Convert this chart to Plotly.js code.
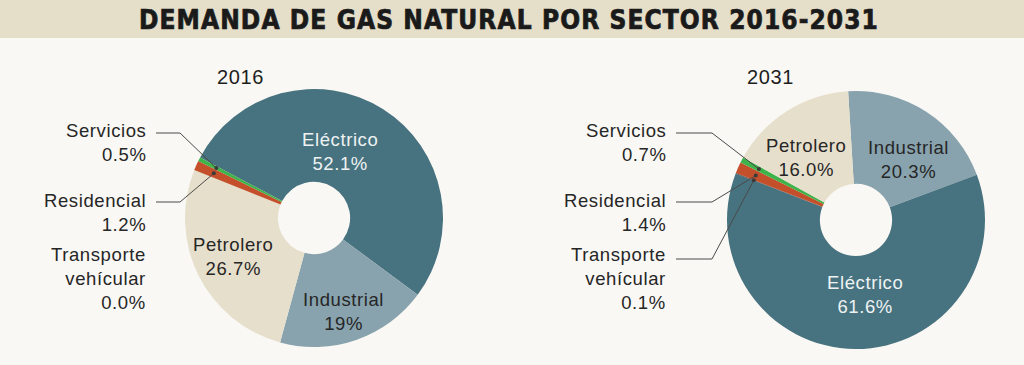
<!DOCTYPE html>
<html><head><meta charset="utf-8">
<script src="https://cdn.plot.ly/plotly-3.0.1.min.js"></script>
<style>
html,body{margin:0;padding:0;background:#f9f8f4;}
#chart{width:1024px;height:365px;}
.annotation-text{letter-spacing:0.6px;}
.gtitle{letter-spacing:1.1px; stroke:#1a1a1a; stroke-width:0.7px;}
</style></head><body><div id="chart"></div>
<script>
// ---- data ----
const chartTitle = "DEMANDA DE GAS NATURAL POR SECTOR 2016-2031";
const years = ["2016", "2031"];
const sectors2016 = ["Eléctrico", "Industrial", "Petrolero", "Transporte vehícular", "Residencial", "Servicios"];
const values2016 = [52.1, 19, 26.7, 0.0, 1.2, 0.5];
const pctText2016 = ["52.1%", "19%", "26.7%", "0.0%", "1.2%", "0.5%"];
const sectors2031 = ["Industrial", "Eléctrico", "Transporte vehícular", "Residencial", "Servicios", "Petrolero"];
const values2031 = [20.3, 61.6, 0.1, 1.4, 0.7, 16.0];
const pctText2031 = ["20.3%", "61.6%", "0.1%", "1.4%", "0.7%", "16.0%"];

// ---- style / layout ----
const W = 1024, H = 365;
const colors = {
  "Eléctrico": "#47727f",
  "Industrial": "#88a3ad",
  "Petrolero": "#e6dfcb",
  "Transporte vehícular": "#33414a",
  "Residencial": "#c4502b",
  "Servicios": "#3db34a"
};
const txtDark = "#262626";
const fontFam = "Liberation Sans, Arial, sans-serif";
const pies = [
  {year: years[0], yearX: 240, labels: sectors2016, values: values2016, text: pctText2016, cx: 314, cy: 218, r: 129, rot: -62,
   inside: {"Eléctrico": [340, 152], "Industrial": [343, 311], "Petrolero": [233, 256]},
   outEdge: 148, knee: 180},
  {year: years[1], yearX: 770, labels: sectors2031, values: values2031, text: pctText2031, cx: 856, cy: 220, r: 129, rot: -3.5,
   inside: {"Petrolero": [806, 157], "Industrial": [908, 159], "Eléctrico": [865, 294]},
   outEdge: 668, knee: 712}
];
const outY = {"Servicios": 143, "Residencial": 213, "Transporte vehícular": 278};
const firstLineY = {"Servicios": 133, "Residencial": 202, "Transporte vehícular": 259};
const px = x => x / W, py = y => (H - y) / H;

const traces = [], annotations = [], shapes = [];
shapes.push({type: "rect", xref: "paper", yref: "paper", x0: 0, x1: 1, y0: py(38), y1: 1,
  fillcolor: "#e5dec9", line: {width: 0}, layer: "below"});

pies.forEach(p => {
  traces.push({
    type: "pie", labels: p.labels, values: p.values, sort: false, direction: "clockwise",
    rotation: p.rot, hole: 0.28, textinfo: "none", hoverinfo: "label+percent",
    marker: {colors: p.labels.map(l => colors[l]), line: {width: 0}},
    domain: {x: [px(p.cx - p.r), px(p.cx + p.r)], y: [py(p.cy + p.r), py(p.cy - p.r)]},
    showlegend: false
  });
  annotations.push({text: p.year, xref: "paper", yref: "paper", x: px(p.yearX), y: py(77),
    xanchor: "center", yanchor: "middle",
    showarrow: false, font: {family: fontFam, size: 20, color: "#1e1e1e"}});
  const total = p.values.reduce((a, b) => a + b, 0);
  let cum = 0;
  p.labels.forEach((lab, i) => {
    const v = p.values[i];
    const mid = (p.rot + (cum + v / 2) / total * 360) * Math.PI / 180;
    cum += v;
    if (p.inside[lab]) {
      const [x, y] = p.inside[lab];
      annotations.push({text: lab + "<br>" + p.text[i], xref: "paper", yref: "paper", x: px(x), y: py(y),
        xanchor: "center", yanchor: "middle", showarrow: false,
        font: {family: fontFam, size: 18.5, color: lab === "Eléctrico" ? "#eef2f3" : txtDark}});
    } else {
      annotations.push({text: lab.replace(" ", "<br>") + "<br>" + p.text[i], xref: "paper", yref: "paper",
        x: px(p.outEdge), y: py(outY[lab]), xanchor: "right", yanchor: "middle", align: "right", showarrow: false,
        font: {family: fontFam, size: 18.5, color: txtDark}});
      if (v > 0) {
        const dx = p.cx + 0.85 * p.r * Math.sin(mid), dy = p.cy - 0.85 * p.r * Math.cos(mid);
        const ly = firstLineY[lab];
        shapes.push({type: "path", xref: "paper", yref: "paper",
          path: `M ${px(p.outEdge + 8)} ${py(ly)} L ${px(p.knee)} ${py(ly)} L ${px(dx)} ${py(dy)}`,
          line: {color: "#4a4a4a", width: 1}});
        shapes.push({type: "circle", xref: "paper", yref: "paper",
          x0: px(dx - 2), x1: px(dx + 2), y0: py(dy + 2), y1: py(dy - 2),
          fillcolor: "#3a3a3a", line: {width: 0}});
      }
    }
  });
});

const layout = {
  width: W, height: H, margin: {l: 0, r: 0, t: 0, b: 0},
  paper_bgcolor: "#f9f8f4", plot_bgcolor: "#f9f8f4",
  title: {text: chartTitle, x: px(509), xanchor: "center", y: 1 - 20 / H, yanchor: "middle", yref: "container",
    font: {family: "DejaVu Sans Condensed, DejaVu Sans, sans-serif", size: 26, weight: "bold", color: "#1a1a1a"}},
  shapes: shapes, annotations: annotations
};
Plotly.newPlot("chart", traces, layout, {displayModeBar: false, staticPlot: true});
</script></body></html>
